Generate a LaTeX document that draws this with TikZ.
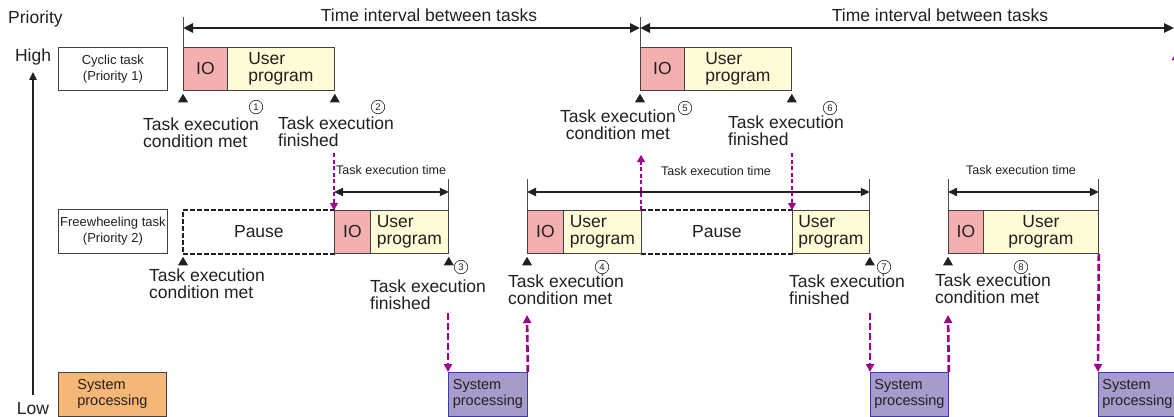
\documentclass[tikz,border=0pt]{standalone}
\usepackage{fontspec}
\setmainfont{Liberation Sans}
\usetikzlibrary{arrows.meta}
\definecolor{ioPink}{RGB}{243,176,176}
\definecolor{progYellow}{RGB}{255,251,214}
\definecolor{sysOrange}{RGB}{245,183,118}
\definecolor{sysPurple}{RGB}{166,155,202}
\definecolor{sysBorder}{RGB}{60,64,156}
\definecolor{sigMagenta}{RGB}{160,0,140}
\definecolor{ink}{RGB}{35,31,32}
\begin{document}
\begin{tikzpicture}[
  x=1pt, y=-1pt,
  font=\fontsize{17.5}{17}\selectfont, text=ink,
  task/.style={draw=ink!85, line width=0.8pt, anchor=north west, inner sep=0pt, minimum height=43pt},
  iobox/.style={task, fill=ioPink},
  progbox/.style={task, fill=progYellow, align=left},
  pausebox/.style={task, draw=none},
  pauseline/.style={draw=ink, line width=1.5pt, dash pattern=on 4.5pt off 2.5pt},
  namebox/.style={task, font=\fontsize{13}{16}\selectfont, align=center},
  sysbox/.style={task, minimum height=44pt, font=\fontsize{14.5}{16}\selectfont, align=left},
  note/.style={anchor=north west, inner sep=0pt, align=left},
  timenote/.style={inner sep=0pt, font=\fontsize{12.5}{14}\selectfont},
  circnum/.style={circle, draw=ink, line width=0.6pt, minimum size=13.5pt, inner sep=0pt, font=\fontsize{9.5}{9.5}\selectfont},
  gaparrow/.style={draw=ink, line width=2.6pt, {Triangle[length=10pt,width=9pt]}-{Triangle[length=10pt,width=9pt]}},
  execarrow/.style={draw=ink, line width=2pt, {Triangle[length=9pt,width=8pt]}-{Triangle[length=9pt,width=8pt]}},
  limitline/.style={draw=ink!80, line width=0.7pt},
  sig/.style={draw=sigMagenta, line width=1.1pt, dash pattern=on 4pt off 2.5pt, -{Triangle[length=7pt,width=8pt]}},
  sigbold/.style={draw=sigMagenta, line width=2.6pt, dash pattern=on 7pt off 3pt, -{Triangle[length=8pt,width=8pt]}}
]
\useasboundingbox (0,0) rectangle (1174,417);

% ---- priority axis ----
\node[anchor=base west, inner sep=0pt] (prio) at (8,24) {Priority};
\node[anchor=base, inner sep=0pt] (high) at (33,62) {High};
\node[anchor=base, inner sep=0pt] (low) at (33,414) {Low};
\draw[ink, line width=1.8pt, -{Triangle[length=8pt,width=7pt]}, shorten <=7pt, shorten >=6pt] (low.north) -- (high.south);

% ---- cyclic task (priority 1) ----
\node[namebox, minimum width=109pt] (cname) at (58,47) {Cyclic task\\(Priority 1)};
\node[iobox, minimum width=44pt] (cio1) at (183,47) {IO};
\node[progbox, minimum width=107pt] (cprog1) at (227,47) {User\\program};
\node[iobox, minimum width=44pt] (cio2) at (640,47) {IO};
\node[progbox, minimum width=107pt] (cprog2) at (684,47) {User\\program};

\node[note] (cmet1) at (143,118) {Task execution\\condition met};
\node[note] (cend1) at (278,117) {Task execution\\finished};
\node[note, anchor=north, align=center] (cmet2) at (618,110) {Task execution\\condition met};
\node[note] (cend2) at (728,116) {Task execution\\finished};

% ---- time interval between tasks ----
\draw[limitline] (cio1.north west) -- ++(0,-30);
\draw[limitline] (cio2.north west) -- ++(0,-30);
\coordinate (gapend) at (1174,28);
\draw[gaparrow] ([yshift=19pt]cio1.north west) -- ([yshift=19pt]cio2.north west);
\draw[gaparrow] ([yshift=19pt]cio2.north west) -- (gapend);
\node[anchor=base, inner sep=0pt] (gap1) at (429,22) {Time interval between tasks};
\node[anchor=base, inner sep=0pt] (gap2) at (940,22) {Time interval between tasks};

% ---- freewheeling task (priority 2) ----
\node[namebox, minimum width=109pt, minimum height=44pt] (fname) at (58,209) {Freewheeling task\\(Priority 2)};
\node[pausebox, minimum width=151pt] (fpause1) at (183,210) {Pause};
\node[pausebox, minimum width=151pt] (fpause2) at (641,210) {Pause};
\draw[pauseline] (fpause1.north east) -- (fpause1.north west) -- (fpause1.south west) -- (fpause1.south east);
\draw[pauseline] (fpause2.north west) -- (fpause2.north east);
\draw[pauseline] (fpause2.south west) -- (fpause2.south east);
\node[iobox, minimum width=36pt] (fio1) at (334,210) {IO};
\node[progbox, minimum width=78pt] (fprog1) at (370,210) {User\\program};
\node[iobox, minimum width=36pt] (fio2) at (527,210) {IO};
\node[progbox, minimum width=78pt] (fprog2) at (563,210) {User\\program};
\node[progbox, minimum width=77pt] (fprog3) at (792,210) {User\\program};
\node[iobox, minimum width=35pt] (fio3) at (948,210) {IO};
\node[progbox, minimum width=115pt, align=center] (fprog4) at (983,210) {User\\program};

\node[note] (fmet1) at (149,269) {Task execution\\condition met};
\node[note] (fend1) at (370,280) {Task execution\\finished};
\node[note] (fmet2) at (508,275) {Task execution\\condition met};
\node[note] (fend2) at (789,275) {Task execution\\finished};
\node[note] (fmet3) at (935,274) {Task execution\\condition met};

% ---- task execution time ----
\draw[limitline] (fprog1.north east) -- ++(0,-31);
\draw[limitline] (fio2.north west) -- ++(0,-31);
\draw[limitline] (fprog3.north east) -- ++(0,-31);
\draw[limitline] (fio3.north west) -- ++(0,-31);
\draw[limitline] (fprog4.north east) -- ++(0,-31);
\draw[execarrow] ([yshift=18pt]fio1.north west) -- ([yshift=18pt]fprog1.north east);
\draw[execarrow] ([yshift=18pt]fio2.north west) -- ([yshift=18pt]fprog3.north east);
\draw[execarrow] ([yshift=18pt]fio3.north west) -- ([yshift=18pt]fprog4.north east);
\node[timenote, anchor=base west] (tex1) at (336,174) {Task execution time};
\node[timenote, anchor=base] (tex2) at (716,175) {Task execution time};
\node[timenote, anchor=base] (tex3) at (1021,174) {Task execution time};

% ---- event markers ----
\foreach \p in {cio1.south west, cprog1.south east, cio2.south west, cprog2.south east,
                fpause1.south west, fprog1.south east, fio2.south west, fprog3.south east, fio3.south west}
  \fill[ink] ([yshift=-3pt]\p) -- ++(5,8.5) -- ++(-10,0) -- cycle;

\foreach \n/\x/\y in {1/256/107, 2/378/107, 3/461/267, 4/602/267, 5/685/108, 6/830/108, 7/884/267, 8/1021/267}
  \node[circnum] (num\n) at (\x,\y) {\n};

% ---- system processing ----
\node[sysbox, fill=sysOrange, minimum width=108pt] (sysidle) at (58,372) {System\\processing};
\node[sysbox, fill=sysPurple, draw=sysBorder, minimum width=79pt] (sys1) at (448,372) {System\\processing};
\node[sysbox, fill=sysPurple, draw=sysBorder, minimum width=78pt] (sys2) at (870,372) {System\\processing};
\node[sysbox, fill=sysPurple, draw=sysBorder, minimum width=78pt] (sys3) at (1098,372) {System\\processing};

% ---- hand-over between tasks ----
\coordinate (c2drop) at (334,153);
\coordinate (c5rise) at (641,155);
\coordinate (c6drop) at (792,153);
\draw[sig] (c2drop) -- (fio1.north west);
\draw[sig] (fpause2.north west) -- (c5rise);
\draw[sig] (c6drop) -- (fprog3.north west);

\coordinate (s1drop) at (448,313);
\coordinate (s1rise) at (527,315);
\coordinate (s2drop) at (870,313);
\coordinate (s2rise) at (948,315);
\coordinate (s3rise) at (1176,52);
\draw[sigbold] (s1drop) -- (sys1.north west);
\draw[sigbold] (sys1.north east) -- (s1rise);
\draw[sigbold] (s2drop) -- (sys2.north west);
\draw[sigbold] (sys2.north east) -- (s2rise);
\draw[sigbold] (fprog4.south east) -- (sys3.north west);
\draw[sigbold] (sys3.north east) -- (s3rise);
\end{tikzpicture}
\end{document}
